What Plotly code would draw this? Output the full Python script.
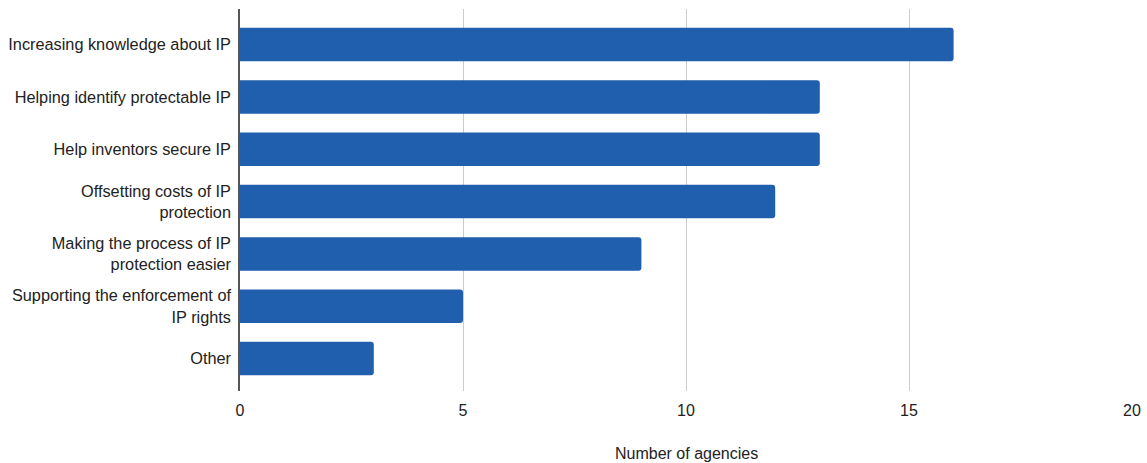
import plotly.graph_objects as go

categories = [
    "Increasing knowledge about IP",
    "Helping identify protectable IP",
    "Help inventors secure IP",
    "Offsetting costs of IP<br>protection",
    "Making the process of IP<br>protection easier",
    "Supporting the enforcement of<br>IP rights",
    "Other",
]
values = [16, 13, 13, 12, 9, 5, 3]
x_ticks = [0, 5, 10, 15, 20]

fig = go.Figure(go.Bar(
    x=values, y=categories, orientation="h",
    marker=dict(color="#1f5fad", cornerradius=3, line=dict(width=0)),
    width=0.64,
))
fig.update_layout(
    width=1147, height=463,
    margin=dict(l=240, r=15, t=9, b=72, autoexpand=False),
    plot_bgcolor="white", paper_bgcolor="white",
    font=dict(family="Liberation Sans, Arial, sans-serif", size=16, color="#222222"),
    showlegend=False,
)
fig.update_xaxes(
    range=[0, 20], tickvals=x_ticks, showgrid=True, gridcolor="#cccccc", gridwidth=1,
    zeroline=False, showline=False, ticks="", ticklabelstandoff=8, automargin=False,
    tickfont=dict(size=16),
)
fig.update_yaxes(
    type="category", range=[6.62, -0.68], showgrid=False, zeroline=False, automargin=False,
    showline=True, linecolor="#555555", linewidth=1.5, ticks="", ticklabelstandoff=4,
    tickfont=dict(size=16.3),
)
fig.add_annotation(
    text="Number of agencies", xref="paper", yref="paper", x=0.5, y=0,
    xanchor="center", yanchor="middle", yshift=-62, showarrow=False,
    font=dict(size=16),
)
fig.write_html(
    "out.html",
    config={"displayModeBar": False},
    post_script="document.body.style.margin='0';document.body.style.overflow='hidden';",
)
